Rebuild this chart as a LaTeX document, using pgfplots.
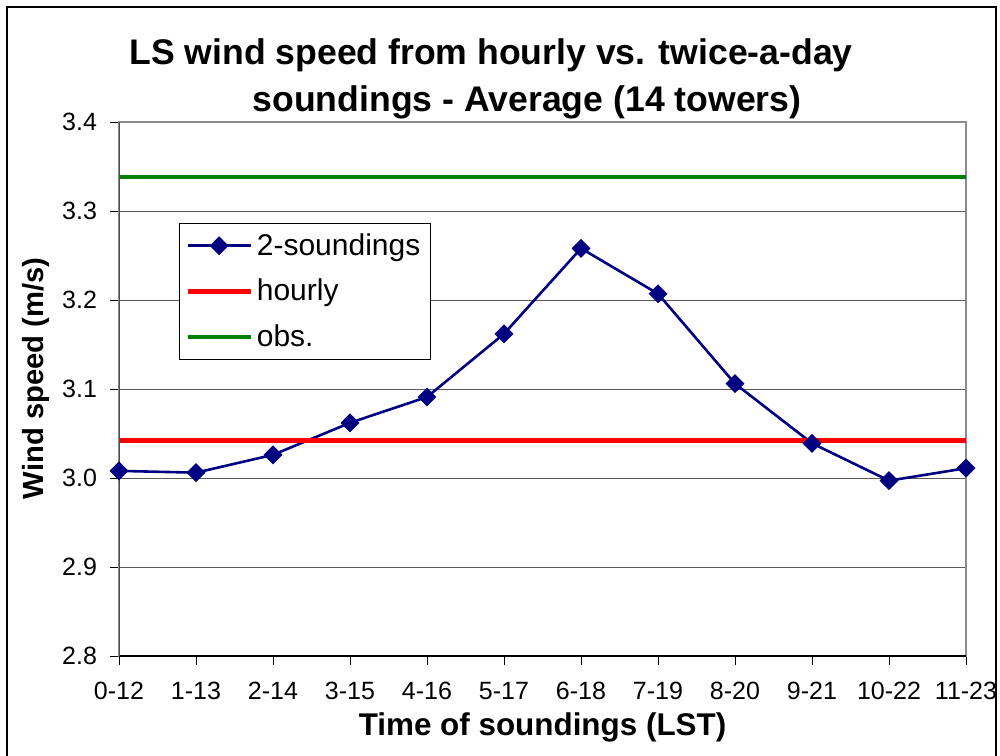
\documentclass[border=0pt]{standalone}
\usepackage{pgfplots}
\pgfplotsset{compat=1.18}
\usepackage{fontspec}
\setmainfont{Liberation Sans}
\definecolor{navy}{RGB}{0,0,128}
\definecolor{xlgreen}{RGB}{0,128,0}
\definecolor{gridgray}{RGB}{90,90,90}
\definecolor{boxgray}{RGB}{140,140,140}
\begin{document}
\begin{tikzpicture}
\useasboundingbox (0pt,0pt) rectangle (500pt,377.5pt);
\draw[line width=1pt] (3.5pt,-10pt) rectangle (498pt,374pt);
\node[font=\bfseries\fontsize{17.8}{20}\selectfont, anchor=base] at (245.5pt,345pt) {LS wind speed from hourly vs. twice-a-day};
\node[font=\bfseries\fontsize{17.8}{20}\selectfont, anchor=base] at (263.5pt,321.5pt) {soundings - Average (14 towers)};
\begin{axis}[
  at={(59.5pt,49.5pt)}, anchor=south west,
  scale only axis, width=423.5pt, height=267pt,
  xmin=0, xmax=11, ymin=2.8, ymax=3.4,
  xtick={0,...,11},
  xticklabels={0-12,1-13,2-14,3-15,4-16,5-17,6-18,7-19,8-20,9-21,10-22,11-23},
  ytick={2.8,2.9,3.0,3.1,3.2,3.3,3.4},
  yticklabel style={/pgf/number format/fixed,/pgf/number format/precision=1,/pgf/number format/fixed zerofill, xshift=-3pt},
  xticklabel style={yshift=-5pt},
  /pgf/number format/assume math mode=true,
  tick label style={font=\fontsize{12.5}{14}\selectfont},
  xtick pos=left, ytick pos=left,
  tick align=outside, major tick length=4.5pt,
  tick style={black, line width=0.5pt},
  axis line style={boxgray, line width=0.6pt},
  ymajorgrids, grid style={gridgray, line width=0.5pt},
  xlabel={Time of soundings (LST)},
  ylabel={Wind speed (m/s)},
  xlabel style={font=\bfseries\fontsize{15.7}{18}\selectfont, at={(rel axis cs:0.5,-0.148)}, anchor=base},
  ylabel style={font=\bfseries\fontsize{14.6}{17}\selectfont, at={(rel axis cs:-0.098,0.52)}, anchor=center},
  legend style={at={(0.0708,0.811)}, anchor=north west, draw=black, line width=0.5pt,
    font=\fontsize{15}{18}\selectfont, row sep=6.5pt, inner sep=3pt},
  legend cell align=left,
  legend image code/.code={\draw[mark repeat=2,mark phase=2,#1] plot coordinates {(0pt,0pt) (15.75pt,0pt) (31.5pt,0pt)};},
]
\addplot[navy, line width=1.3pt, mark=square*, mark size=2.7pt, mark options={solid, fill=navy, rotate=45}] coordinates {
 (0,3.008) (1,3.006) (2,3.026) (3,3.062) (4,3.091) (5,3.162)
 (6,3.258) (7,3.207) (8,3.106) (9,3.039) (10,2.997) (11,3.011)};
\addlegendentry{2-soundings}
\addplot[red, line width=2.2pt] coordinates {(0,3.042) (11,3.042)};
\addlegendentry{hourly}
\addplot[xlgreen, line width=2.2pt] coordinates {(0,3.338) (11,3.338)};
\addlegendentry{obs.}
\draw[black, line width=0.6pt] (rel axis cs:0,0) -- (rel axis cs:1,0);
\draw[black!70, line width=0.6pt] (rel axis cs:0,0) -- (rel axis cs:0,1);
\end{axis}
\end{tikzpicture}
\end{document}
